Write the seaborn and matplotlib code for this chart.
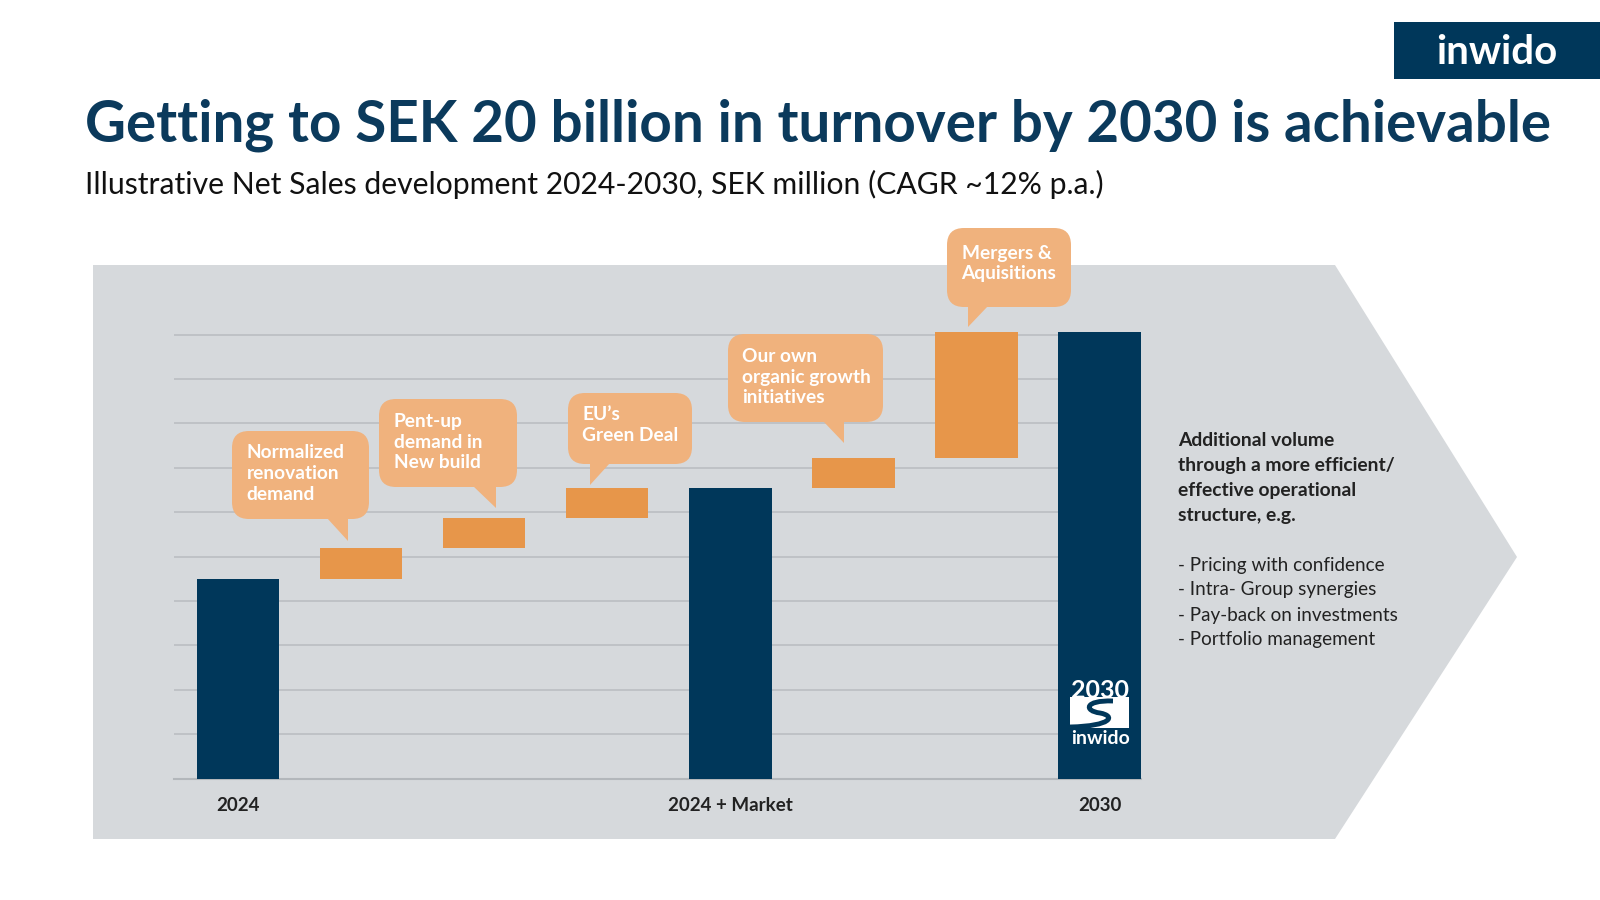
import matplotlib.pyplot as plt
import seaborn as sns
import numpy as np
from matplotlib.patches import FancyBboxPatch, Polygon, Rectangle, PathPatch
from matplotlib.path import Path

# Waterfall data, SEK million
steps = ["2024", "Normalized renovation demand", "Pent-up demand in New build",
         "EU's Green Deal", "2024 + Market", "Our own organic growth initiatives",
         "Mergers & Aquisitions", "2030"]
tick_labels = ["2024", "", "", "", "2024 + Market", "", "", "2030"]
sales_2024 = 9000
market_effects = [1400, 1350, 1350]     # renovation, new build, green deal
organic_growth = 1350
mergers_acq = 5650

bubble_texts = [
    ["Normalized", "renovation", "demand"],
    ["Pent-up", "demand in", "New build"],
    ["EU\u2019s", "Green Deal"],
    ["Our own", "organic growth", "initiatives"],
    ["Mergers &", "Aquisitions"],
]
side_title = ["Additional volume", "through a more efficient/",
              "effective operational", "structure, e.g."]
side_bullets = ["- Pricing with confidence", "- Intra- Group synergies",
                "- Pay-back on investments", "- Portfolio management"]

# build the waterfall from the data
market_total = sales_2024 + sum(market_effects)
total_2030 = market_total + organic_growth + mergers_acq
cum = np.cumsum([sales_2024] + market_effects)
bottoms = [0] + list(cum[:-1]) + [0, market_total, market_total + organic_growth, 0]
heights = [sales_2024] + market_effects + [market_total, organic_growth, mergers_acq, total_2030]
is_total = [True, False, False, False, True, False, False, True]

NAVY = "#00375A"
ORANGE = "#E7964A"
BUBBLE = "#F0B27D"
PANEL = "#D6D9DC"
GRID = "#BDC0C4"
TEXT = "#222222"

sns.set_theme(style="whitegrid")
plt.rcParams['font.family'] = ['Lato', 'DejaVu Sans']

fig = plt.figure(figsize=(16, 9), dpi=100)
fig.patch.set_facecolor("white")

# background layer in pixel coordinates
bg = fig.add_axes([0, 0, 1, 1], zorder=0)
bg.set_xlim(0, 1600)
bg.set_ylim(900, 0)
bg.axis("off")
bg.add_patch(Polygon([(93, 265), (1335, 265), (1517, 557), (1335, 839), (93, 839)],
                     closed=True, facecolor=PANEL, edgecolor="none"))

# chart axes
ax = fig.add_axes([174 / 1600, 1 - 778.6 / 900, (1141 - 174) / 1600, (778.6 - 223.6) / 900], zorder=2)
ax.set_facecolor("none")
sns.barplot(x=steps, y=heights, order=steps, bottom=bottoms, color=NAVY,
            width=0.67, errorbar=None, saturation=1, ax=ax, zorder=3)
for patch, tot in zip(ax.patches, is_total):
    patch.set_facecolor(NAVY if tot else ORANGE)
    patch.set_edgecolor("none")

ax.set_xlim(-0.518, 7.335)
ax.set_ylim(0, 25000)
ax.set_yticks(np.arange(0, 20001, 2000))
ax.set_yticklabels([])
ax.grid(axis="y", color=GRID, linewidth=1.3, zorder=0)
ax.grid(axis="x", visible=False)
ax.set_axisbelow(True)
for s in ["left", "right", "top"]:
    ax.spines[s].set_visible(False)
ax.spines["bottom"].set_color("#B3B7BB")
ax.spines["bottom"].set_linewidth(1.5)
ax.set_xticks(range(len(steps)))
ax.set_xticklabels(tick_labels, fontsize=13.5, fontweight="bold", color=TEXT)
ax.tick_params(axis="x", length=0, pad=13)
ax.tick_params(axis="y", length=0)
ax.set_xlabel("")
ax.set_ylabel("")

# foreground layer: bubbles, titles, logos
fg = fig.add_axes([0, 0, 1, 1], zorder=4)
fg.set_xlim(0, 1600)
fg.set_ylim(900, 0)
fg.axis("off")
fg.patch.set_alpha(0)

bubbles = [
    # left, top, right, bottom, tail x0, tail x1, tip y, vertical side, first line y
    (232, 431, 369, 519, 327, 348, 541, "right", 453),
    (379, 399, 517, 487, 473, 496, 508, "right", 421.7),
    (568, 393, 692, 464, 590, 610, 485, "left", 415),
    (728, 334, 883, 422, 823, 844, 443, "right", 356.7),
    (947, 228, 1071, 307, 968, 988, 327, "left", 253.3),
]
for (l, t, r, b, tx0, tx1, tip, side, ly), lines in zip(bubbles, bubble_texts):
    fg.add_patch(FancyBboxPatch((l, t), r - l, b - t,
                                boxstyle="round,pad=0,rounding_size=17",
                                facecolor=BUBBLE, edgecolor="none"))
    tip_x = tx1 if side == "right" else tx0
    fg.add_patch(Polygon([(tx0, b - 1), (tx1, b - 1), (tip_x, tip)], closed=True,
                         facecolor=BUBBLE, edgecolor="none"))
    for k, line in enumerate(lines):
        fg.text(l + 14.5, ly + k * 20.5, line, fontsize=13.8, fontweight="bold",
                color="white", ha="left", va="center")

# side text
for k, line in enumerate(side_title):
    fg.text(1178, 440.7 + k * 25.1, line, fontsize=13.9, fontweight="bold",
            color=TEXT, ha="left", va="center")
for k, line in enumerate(side_bullets):
    fg.text(1178, 565 + k * 25, line, fontsize=13.6, color=TEXT, ha="left", va="center")

# titles
fg.text(85, 141.7, "Getting to SEK 20 billion in turnover by 2030 is achievable",
        fontsize=40.7, fontweight="bold", color="#0B3A5C", ha="left", va="baseline")
fg.text(85, 194, "Illustrative Net Sales development 2024-2030, SEK million (CAGR ~12% p.a.)",
        fontsize=21.7, color="#111111", ha="left", va="baseline")

# inwido logo box
fg.add_patch(Rectangle((1394, 22), 206, 57, facecolor=NAVY, edgecolor="none"))
fg.text(1497, 52, "inwido", fontsize=29, fontweight="bold", color="white",
        ha="center", va="center")

# 2030 emblem inside the last bar
fg.text(1100, 690, "2030", fontsize=18, fontweight="bold", color="white",
        ha="center", va="center")
fg.add_patch(Rectangle((1070, 697), 59, 31, facecolor="white", edgecolor="none"))
s_curve = Path([(1113, 701), (1084, 700), (1084, 711), (1100, 713),
                (1116, 716), (1112, 726), (1070, 727)],
               [Path.MOVETO, Path.CURVE4, Path.CURVE4, Path.CURVE4,
                Path.CURVE4, Path.CURVE4, Path.CURVE4])
fg.add_patch(PathPatch(s_curve, facecolor="none", edgecolor=NAVY, linewidth=3.5))
fg.text(1100, 738, "inwido", fontsize=14, fontweight="bold", color="white",
        ha="center", va="center")

plt.savefig("out.png", dpi=100)
plt.close()
